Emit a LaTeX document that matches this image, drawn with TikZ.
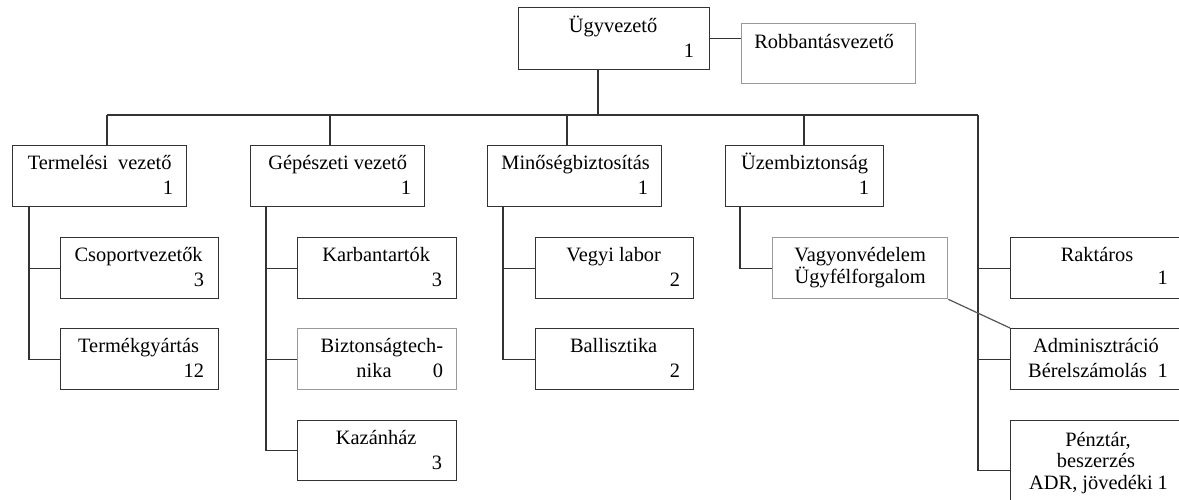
\documentclass[tikz,border=0pt]{standalone}
\usepackage{fontspec}
\setmainfont{Liberation Serif}
\usetikzlibrary{calc}
\definecolor{boxc}{HTML}{333333}
\definecolor{grayc}{HTML}{9A9A9A}
\definecolor{wirec}{HTML}{333333}
\definecolor{diagc}{HTML}{555555}
\newcommand{\fsz}{\fontsize{20.4}{22}\selectfont}
\begin{document}
\begin{tikzpicture}[x=1pt,y=-1pt,
  box/.style={draw=boxc, line width=1.3pt, inner sep=0, anchor=north west},
  gbox/.style={box, draw=grayc},
  txt/.style={inner sep=0, font=\fsz, anchor=base, text=black},
  txtw/.style={inner sep=0, font=\fsz, anchor=base west, text=black},
  num/.style={inner sep=0, font=\fsz, anchor=base east, text=black},
  wire/.style={draw=wirec, line width=1.3pt},
  diag/.style={draw=diagc, line width=1.2pt}]
\useasboundingbox (0,0) rectangle (1179,499);

% boxes
\node[box, minimum width=191pt, minimum height=62pt] (ceo) at (518,7) {};
\node[gbox, minimum width=174pt, minimum height=60pt] (robb) at (741,23) {};
\node[box, minimum width=174pt, minimum height=61pt] (term) at (12,145) {};
\node[box, minimum width=174pt, minimum height=61pt] (gep) at (250,145) {};
\node[box, minimum width=174pt, minimum height=61pt] (min) at (487,145) {};
\node[box, minimum width=158pt, minimum height=61pt] (uzem) at (725,145) {};
\node[box, minimum width=158pt, minimum height=61pt] (csop) at (60,237) {};
\node[box, minimum width=158pt, minimum height=61pt] (termk) at (60,328) {};
\node[box, minimum width=159pt, minimum height=61pt] (karb) at (297,237) {};
\node[gbox, minimum width=159pt, minimum height=61pt] (bizt) at (297,328) {};
\node[box, minimum width=159pt, minimum height=60pt] (kaz) at (297,420) {};
\node[box, minimum width=158pt, minimum height=61pt] (vegyi) at (535,237) {};
\node[box, minimum width=158pt, minimum height=61pt] (ball) at (535,328) {};
\node[gbox, minimum width=175pt, minimum height=61pt] (vagy) at (772,237) {};
\node[box, minimum width=200pt, minimum height=61pt] (rakt) at (1010,237) {};
\node[box, minimum width=200pt, minimum height=61pt] (adm) at (1010,328) {};
\node[box, minimum width=200pt, minimum height=100pt] (penz) at (1010,420) {};

% texts
\node[txt] (ceoT) at ($(ceo.north)+(-1,25)$) {Ügyvezető};
\node[num] (ceoN) at ($(ceo.north east)+(-16,50)$) {1};
\node[txt] (robbT) at (824,48) {Robbantásvezető};
\node[txt] (termT) at ($(term.north)+(0,24)$) {Termelési\ \ vezető};
\node[num] (termN) at ($(term.north east)+(-14,49)$) {1};
\node[txt] (gepT) at ($(gep.north)+(0,24)$) {Gépészeti vezető};
\node[num] (gepN) at ($(gep.north east)+(-14,49)$) {1};
\node[txt] (minT) at ($(min.north)+(1,24)$) {Minőségbiztosítás};
\node[num] (minN) at ($(min.north east)+(-14,49)$) {1};
\node[txt] (uzemT) at ($(uzem.north)+(0,24)$) {Üzembiztonság};
\node[num] (uzemN) at ($(uzem.north east)+(-15,49)$) {1};
\node[txt] (csopT) at ($(csop.north)+(-1,24.5)$) {Csoportvezetők};
\node[num] (csopN) at ($(csop.north east)+(-15,49.5)$) {3};
\node[txt] (termkT) at ($(termk.north)+(-1,24.5)$) {Termékgyártás};
\node[num] (termkN) at ($(termk.north east)+(-15,49.5)$) {12};
\node[txt] (karbT) at ($(karb.north)+(-1,24.5)$) {Karbantartók};
\node[num] (karbN) at ($(karb.north east)+(-15,49.5)$) {3};
\node[num] (biztT) at ($(bizt.north east)+(-14,24.5)$) {Biztonságtech-};
\node[txt] (biztT2) at (374,377.5) {nika};
\node[num] (biztN) at ($(bizt.north east)+(-14,49.5)$) {0};
\node[txt] (kazT) at ($(kaz.north)+(-1,24.5)$) {Kazánház};
\node[num] (kazN) at ($(kaz.north east)+(-15,49.5)$) {3};
\node[txt] (vegyiT) at ($(vegyi.north)+(-1,24.5)$) {Vegyi labor};
\node[num] (vegyiN) at ($(vegyi.north east)+(-14,49.5)$) {2};
\node[txt] (ballT) at ($(ball.north)+(-1,24.5)$) {Ballisztika};
\node[num] (ballN) at ($(ball.north east)+(-14,49.5)$) {2};
\node[txt] (vagyT) at ($(vagy.north)+(0,24.5)$) {Vagyonvédelem};
\node[txt] (vagyT2) at ($(vagy.north)+(0,46.5)$) {Ügyfélforgalom};
\node[txt] (raktT) at (1097,261.5) {Raktáros};
\node[num] (raktN) at (1168,284) {1};
\node[txt] (admT) at (1096,352.5) {Adminisztráció};
\node[txtw] (admT2) at (1028,377) {Bérelszámolás};
\node[num] (admN) at (1168,377) {1};
\node[txt] (penzT) at (1098,446) {Pénztár,};
\node[txt] (penzT2) at (1096,467.5) {beszerzés};
\node[txtw] (penzT3) at (1029,489) {ADR, jövedéki};
\node[num] (penzN) at (1168,489) {1};

% junction coordinates
\coordinate (c0) at (598,69);
\coordinate (b1) at (107,115);
\coordinate (b2) at (330,115);
\coordinate (b3) at (567,115);
\coordinate (b4) at (804,115);
\coordinate (b5) at (978,115);
\coordinate (t0) at (29,206);
\coordinate (g0) at (266,206);
\coordinate (m0) at (503,206);
\coordinate (u0) at (740,206);

% connectors
\draw[wire] (ceo.east) -- (ceo.east -| robb.west);
\draw[wire] (c0) -- (c0 |- b1);
\draw[wire] (b1) -- (b5);
\draw[wire] (b1) -- (b1 |- term.north);
\draw[wire] (b2) -- (b2 |- gep.north);
\draw[wire] (b3) -- (b3 |- min.north);
\draw[wire] (b4) -- (b4 |- uzem.north);
\draw[wire] (t0) |- (csop.west);
\draw[wire] (t0) |- (termk.west);
\draw[wire] (g0) |- (karb.west);
\draw[wire] (g0) |- (bizt.west);
\draw[wire] (g0) |- (kaz.west);
\draw[wire] (m0) |- (vegyi.west);
\draw[wire] (m0) |- (ball.west);
\draw[wire] (u0) |- (vagy.west);
\draw[wire] (b5) |- (rakt.west);
\draw[wire] (b5) |- (adm.west);
\draw[wire] (b5) |- (penz.west);
\draw[diag] (vagy.south east) -- (adm.north west);
\end{tikzpicture}
\end{document}
